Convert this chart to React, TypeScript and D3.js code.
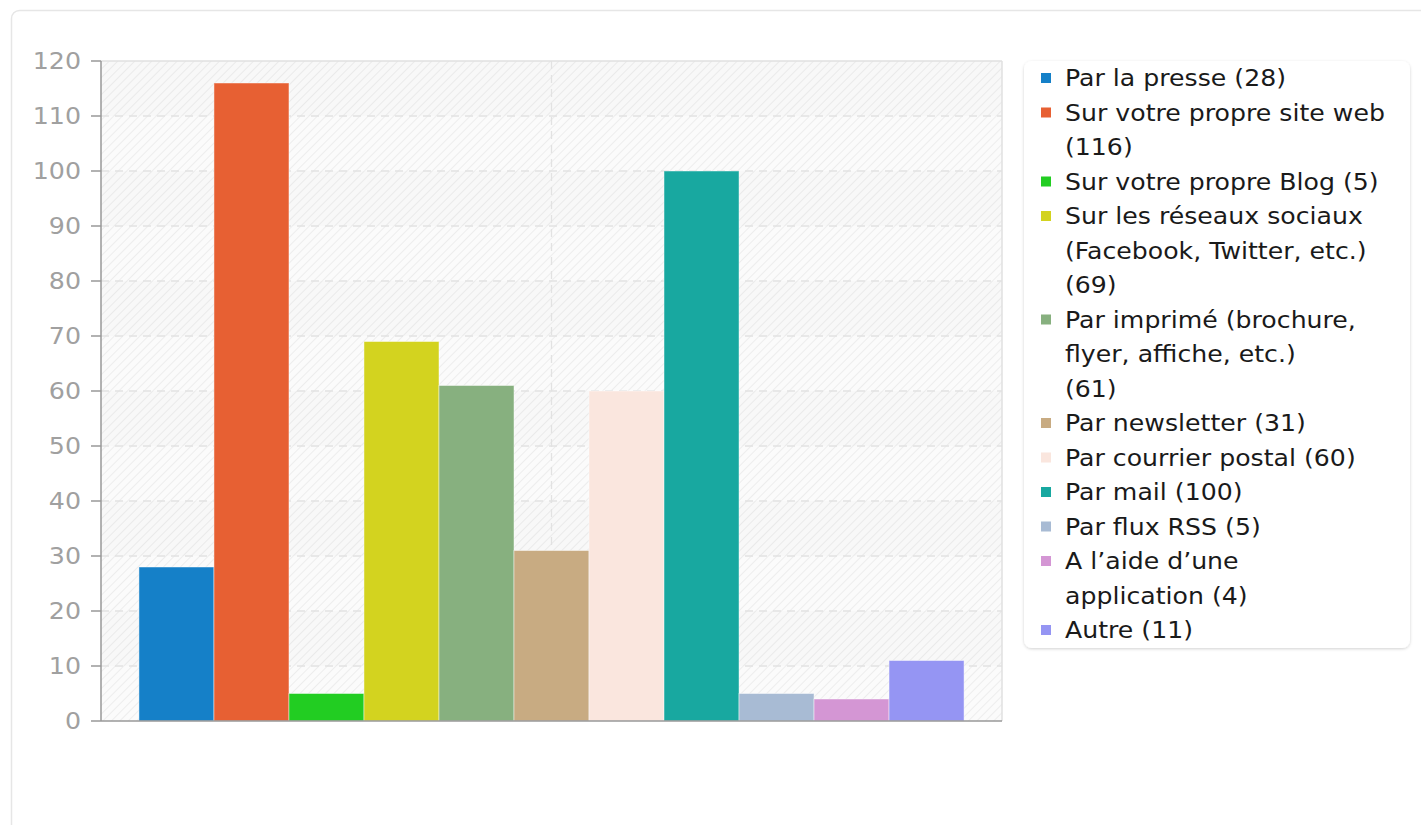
import React from "react";
import * as d3 from "d3";

const categories = [
  "Par la presse",
  "Sur votre propre site web",
  "Sur votre propre Blog",
  "Sur les réseaux sociaux (Facebook, Twitter, etc.)",
  "Par imprimé (brochure, flyer, affiche, etc.)",
  "Par newsletter",
  "Par courrier postal",
  "Par mail",
  "Par flux RSS",
  "A l’aide d’une application",
  "Autre",
];
const values = [28, 116, 5, 69, 61, 31, 60, 100, 5, 4, 11];
const colors = [
  "#1580c8", "#e76033", "#22cd22", "#d3d31f", "#87b07f", "#c8ab82",
  "#fae6de", "#18a8a0", "#a8bbd4", "#d496d4", "#9595f3",
];
// legend lines (wrapped as in the reference)
const legendLines = [
  ["Par la presse (28)"],
  ["Sur votre propre site web", "(116)"],
  ["Sur votre propre Blog (5)"],
  ["Sur les réseaux sociaux", "(Facebook, Twitter, etc.)", "(69)"],
  ["Par imprimé (brochure,", "flyer, affiche, etc.)", "(61)"],
  ["Par newsletter (31)"],
  ["Par courrier postal (60)"],
  ["Par mail (100)"],
  ["Par flux RSS (5)"],
  ["A l’aide d’une", "application (4)"],
  ["Autre (11)"],
];
const yTicks = [0, 10, 20, 30, 40, 50, 60, 70, 80, 90, 100, 110, 120];

const FONT = "DejaVu Sans, sans-serif";

export default function App() {
  const left = 101, right = 1002, top = 61, bottom = 721;
  const y = d3.scaleLinear().domain([0, 120]).range([bottom, top]);
  const outer = d3.scaleBand<string>().domain(["all"]).range([left, right]).paddingInner(0).paddingOuter(0.046);
  const inner = d3.scaleBand<string>().domain(categories).range([0, outer.bandwidth()]);
  const gx = outer("all")!;
  const centerX = gx + outer.bandwidth() / 2;

  const lineH = 34.5;
  let lineIdx = 0;
  const legendItems = legendLines.map((lines, i) => {
    const start = lineIdx;
    lineIdx += lines.length;
    return { lines, start, color: colors[i] };
  });

  return (
    <svg width={1421} height={825} style={{ position: "absolute", left: 0, top: 0, background: "#fff" }}>
      <defs>
        <pattern id="hatch" width={6} height={6} patternUnits="userSpaceOnUse" patternTransform="rotate(45)">
          <rect width={6} height={6} fill="#fbfbfb" />
          <line x1={0} y1={0} x2={0} y2={6} stroke="#e9e9e9" strokeWidth={1.5} />
        </pattern>
        <filter id="shadow" x="-10%" y="-10%" width="120%" height="120%">
          <feDropShadow dx={0} dy={1} stdDeviation={1.5} floodColor="#000" floodOpacity={0.18} />
        </filter>
      </defs>
      {/* card */}
      <rect x={11.5} y={10.5} width={1440} height={900} rx={8} fill="#fff" stroke="#e6e6e6" strokeWidth={1.5} />
      {/* plot background */}
      <rect x={left} y={top} width={right - left} height={bottom - top} fill="url(#hatch)" />
      {yTicks.slice(0, -1).map((t, i) =>
        i % 2 === 1 ? (
          <rect key={"band" + t} x={left} y={y(t + 10)} width={right - left} height={y(t) - y(t + 10)} fill="#000" opacity={0.012} />
        ) : null
      )}
      {/* grid */}
      {yTicks.filter((t) => t > 0 && t < 120).map((t) => (
        <line key={"g" + t} x1={left} x2={right} y1={y(t)} y2={y(t)} stroke="#e2e2e2" strokeWidth={1.3} strokeDasharray="8,6" />
      ))}
      <line x1={centerX} x2={centerX} y1={top} y2={bottom} stroke="#e2e2e2" strokeWidth={1.3} strokeDasharray="8,6" />
      {/* plot frame */}
      <line x1={left} x2={right} y1={top} y2={top} stroke="#e0e0e0" strokeWidth={1.5} />
      <line x1={right} x2={right} y1={top} y2={bottom} stroke="#e0e0e0" strokeWidth={1.5} />
      {/* bars */}
      {categories.map((c, i) => (
        <rect
          key={c}
          x={gx + inner(c)!}
          y={y(values[i])}
          width={inner.bandwidth()}
          height={y(0) - y(values[i])}
          fill={colors[i]}
          stroke="rgba(255,255,255,0.45)"
          strokeWidth={1}
        />
      ))}
      {/* axes */}
      <line x1={left} x2={left} y1={top} y2={bottom} stroke="#999" strokeWidth={1.5} />
      <line x1={left} x2={right} y1={bottom} y2={bottom} stroke="#999" strokeWidth={1.5} />
      {yTicks.map((t) => (
        <g key={"t" + t}>
          <line x1={left - 10} x2={left} y1={y(t)} y2={y(t)} stroke="#999" strokeWidth={1.5} />
          <g transform={`translate(81,${y(t)}) scale(1.1,1)`}>
            <text x={0} y={0} dy="0.35em" textAnchor="end" fontFamily={FONT} fontSize={23} fill="#a0a0a0">
              {t}
            </text>
          </g>
        </g>
      ))}
      {/* legend */}
      <rect x={1024} y={61} width={386} height={587} rx={8} fill="#fff" filter="url(#shadow)" />
      {legendItems.map((it, i) => (
        <g key={"l" + i}>
          <rect x={1041} y={78 + it.start * lineH - 5} width={10} height={10} fill={it.color} />
          {it.lines.map((ln, j) => (
            <g key={j} transform={`translate(1065,${78 + (it.start + j) * lineH}) scale(1.12,1)`}>
              <text x={0} y={0} dy="0.36em" fontFamily={FONT} fontSize={22.5} fill="#1a1a1a">
                {ln}
              </text>
            </g>
          ))}
        </g>
      ))}
    </svg>
  );
}
